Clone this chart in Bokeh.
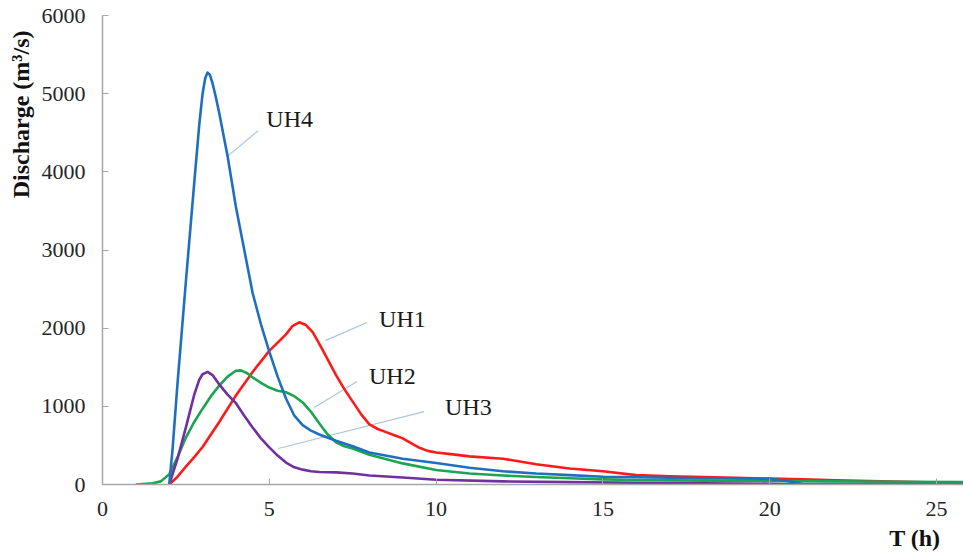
from bokeh.plotting import figure
from bokeh.models import Range1d, FixedTicker, Title
from bokeh.core.properties import value
from bokeh.embed import file_html
from bokeh.resources import INLINE

# ---- data ----
t_uh1 = [2, 2.25, 2.5, 2.75, 3, 3.5, 4, 4.5, 5, 5.5, 5.7, 5.9, 6.1, 6.3, 6.5, 6.75, 7, 7.25, 7.5, 7.75, 8, 8.25, 8.5, 8.75, 9, 9.25, 9.5, 9.75, 10, 10.5, 11, 12, 13, 14, 15, 16, 17, 18, 19, 20, 21, 22, 23, 24, 25, 26]
q_uh1 = [0, 100, 230, 350, 480, 800, 1140, 1440, 1710, 1920, 2030, 2075, 2040, 1950, 1800, 1600, 1400, 1220, 1060, 900, 770, 710, 670, 630, 590, 530, 470, 430, 410, 385, 360, 330, 260, 205, 170, 120, 105, 95, 85, 75, 65, 55, 45, 35, 25, 20]

t_uh2 = [1, 1.5, 1.75, 2, 2.25, 2.5, 2.75, 3, 3.25, 3.5, 3.75, 4, 4.15, 4.35, 4.5, 4.75, 5, 5.25, 5.5, 5.75, 6, 6.25, 6.5, 6.75, 7, 7.25, 7.5, 8, 9, 10, 11, 12, 13, 14, 15, 16, 18, 20, 22, 24, 26]
q_uh2 = [0, 15, 40, 130, 350, 600, 800, 970, 1130, 1265, 1380, 1455, 1460, 1420, 1370, 1300, 1240, 1200, 1180, 1130, 1050, 930, 780, 640, 540, 490, 460, 380, 270, 185, 140, 115, 95, 80, 65, 58, 50, 45, 40, 35, 30]

t_uh3 = [2, 2.25, 2.5, 2.75, 2.9, 3.0, 3.15, 3.3, 3.5, 3.75, 4, 4.25, 4.5, 4.75, 5, 5.25, 5.5, 5.75, 6, 6.25, 6.5, 7, 7.5, 8, 9, 10, 12, 14, 16, 18, 20, 21]
q_uh3 = [0, 330, 730, 1150, 1340, 1410, 1440, 1400, 1280, 1150, 1040, 880, 730, 590, 475, 370, 280, 220, 190, 170, 160, 155, 140, 115, 90, 60, 40, 30, 22, 16, 10, 0]

t_uh4 = [2, 2.1, 2.25, 2.5, 2.75, 2.9, 3.0, 3.08, 3.15, 3.22, 3.3, 3.4, 3.5, 3.75, 4, 4.25, 4.5, 4.75, 5, 5.25, 5.5, 5.75, 6, 6.25, 6.5, 7, 7.5, 8, 9, 10, 11, 12, 13, 14, 15, 16, 17, 18, 19, 20, 20.6, 21, 22, 26]
q_uh4 = [0, 450, 1300, 2600, 3860, 4600, 5000, 5200, 5270, 5240, 5130, 4950, 4750, 4200, 3550, 3000, 2450, 2050, 1700, 1380, 1100, 880, 760, 690, 640, 560, 490, 410, 330, 275, 215, 170, 140, 120, 100, 92, 86, 80, 76, 72, 40, 5, 5, 5]

series_names = ["UH1", "UH2", "UH3", "UH4"]
x_ticks = [0, 5, 10, 15, 20, 25]
y_ticks = [0, 1000, 2000, 3000, 4000, 5000, 6000]

# label annotations (data units): leader start, leader end, text anchor
lead_x0 = [6.68, 6.35, 5.27, 3.77]
lead_y0 = [1841, 985, 460, 4207]
lead_x1 = [7.93, 7.63, 9.64, 4.67]
lead_y1 = [2072, 1317, 933, 4527]
text_x = [8.29, 7.99, 10.27, 4.91]
text_y = [2123, 1394, 997, 4680]

colors = ["#ff1a1a", "#1aa64f", "#7030a0", "#1f6fc0"]
serif = "Liberation Serif"

p = figure(width=963, height=557, output_backend="svg", toolbar_location=None,
           x_range=Range1d(0, 25.81), y_range=Range1d(0, 6000),
           min_border_left=101, min_border_right=0, min_border_top=15, min_border_bottom=73)
p.outline_line_color = None
p.xgrid.grid_line_color = None
p.ygrid.grid_line_color = None
p.background_fill_color = "white"
p.border_fill_color = "white"

for ax in (p.xaxis, p.yaxis):
    ax.axis_line_color = "#a6a6a6"
    ax.axis_line_width = 1.5
    ax.major_tick_line_color = "#a6a6a6"
    ax.major_tick_in = 6
    ax.major_tick_out = 0
    ax.minor_tick_line_color = None
    ax.major_label_text_font = serif
    ax.major_label_text_font_size = "22px"
    ax.major_label_text_color = "#262626"
    ax.major_label_standoff = 17

p.xaxis.ticker = FixedTicker(ticks=x_ticks)
p.yaxis.ticker = FixedTicker(ticks=y_ticks)

# leader lines
p.segment(x0=lead_x0, y0=lead_y0, x1=lead_x1, y1=lead_y1, line_color="#a9c5e4", line_width=1.2)

ts = [t_uh1, t_uh2, t_uh3, t_uh4]
qs = [q_uh1, q_uh2, q_uh3, q_uh4]
for t, q, c in zip(ts, qs, colors):
    p.line(t, q, line_color=c, line_width=2.6, line_join="round")

p.text(x=text_x, y=text_y, text=series_names, text_font=value(serif), text_font_size="24px",
       text_color="#1a1a1a", text_baseline="middle", text_align="left")

# axis titles
p.add_layout(Title(text="Discharge (m³/s)", align="right", offset=15, standoff=10,
                   text_font=serif, text_font_size="24px", text_font_style="bold",
                   text_color="#111111"), "left")
p.add_layout(Title(text="T (h)", align="right", offset=23, standoff=8,
                   text_font=serif, text_font_size="24px", text_font_style="bold",
                   text_color="#111111"), "below")

open("out.html", "w").write(file_html(p, INLINE))
